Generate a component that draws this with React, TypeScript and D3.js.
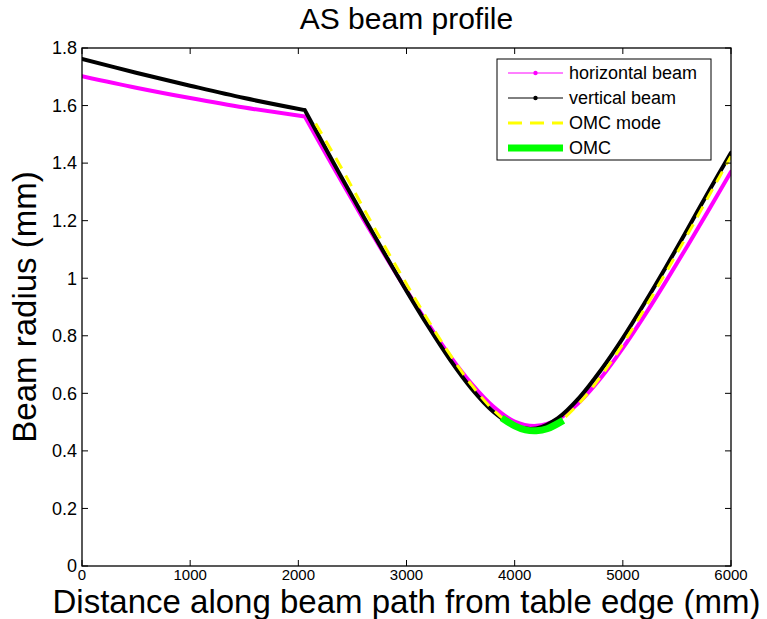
import React from "react";
import * as d3 from "d3";

const W = 767;
const H = 619;
const M = { left: 82, right: 731, top: 48, bottom: 566 };
const FONT = "'Liberation Sans', Arial, Helvetica, sans-serif";

const xTicks = [0, 1000, 2000, 3000, 4000, 5000, 6000];
const yTicks = [0, 0.2, 0.4, 0.6, 0.8, 1, 1.2, 1.4, 1.6, 1.8];

// beam positions (mm)
const beamX = [0, 500, 1000, 1500, 2060, 2200, 2400, 2600, 2800, 3000, 3200, 3400, 3600, 3800, 4000, 4200, 4400, 4600, 4800, 5000, 5200, 5400, 5600, 5800, 6000];
const kinkIndex = 4;
// horizontal beam radius (mm)
const horizontal = [1.702, 1.662, 1.626, 1.593, 1.562, 1.468, 1.336, 1.206, 1.080, 0.958, 0.841, 0.731, 0.634, 0.555, 0.502, 0.487, 0.510, 0.570, 0.655, 0.757, 0.870, 0.990, 1.114, 1.241, 1.370];
// vertical beam radius (mm)
const vertical = [1.762, 1.714, 1.669, 1.626, 1.584, 1.487, 1.350, 1.216, 1.084, 0.956, 0.833, 0.718, 0.617, 0.537, 0.487, 0.478, 0.514, 0.586, 0.682, 0.792, 0.913, 1.040, 1.172, 1.306, 1.436];

// OMC mode
const omcModeX = [2160, 2400, 2600, 2800, 3000, 3200, 3400, 3600, 3800, 4000, 4200, 4400, 4600, 4800, 5000, 5200, 5400, 5600, 5800, 6000];
const omcMode = [1.538, 1.382, 1.245, 1.110, 0.980, 0.854, 0.736, 0.630, 0.543, 0.485, 0.470, 0.499, 0.567, 0.661, 0.771, 0.893, 1.021, 1.153, 1.289, 1.424];

// OMC
const omcX = [3880, 4000, 4100, 4200, 4300, 4450];
const omc = [0.515, 0.487, 0.473, 0.470, 0.477, 0.506];

const legendLabels = ["horizontal beam", "vertical beam", "OMC mode", "OMC"];

type P = [number, number];

export default function App() {
  const x = d3.scaleLinear().domain([0, 6000]).range([M.left, M.right]);
  const y = d3.scaleLinear().domain([0, 1.8]).range([M.bottom, M.top]);
  const line = d3
    .line<P>()
    .x((d) => x(d[0]))
    .y((d) => y(d[1]))
    .curve(d3.curveCatmullRom.alpha(0.5));

  const zip = (xs: number[], ys: number[]): P[] => xs.map((v, i) => [v, ys[i]]);
  const twoPart = (ys: number[]) => {
    const pts = zip(beamX, ys);
    return (line(pts.slice(0, kinkIndex + 1)) || "") + (line(pts.slice(kinkIndex)) || "");
  };

  const tickLen = 6;
  const plotW = M.right - M.left;
  const plotH = M.bottom - M.top;

  // legend
  const lg = { x: 497, y: 59, w: 214, h: 101 };
  const rowY = [73, 98, 123, 148];
  const sx0 = 508, sx1 = 563, tx = 569;

  return (
    <svg
      width={W}
      height={H}
      style={{ position: "absolute", left: 0, top: 0, background: "#fff" }}
      fontFamily={FONT}
    >
      <rect x={0} y={0} width={W} height={H} fill="#fff" />
      <defs>
        <clipPath id="plot">
          <rect x={M.left} y={M.top} width={plotW} height={plotH} />
        </clipPath>
      </defs>

      {/* data */}
      <g clipPath="url(#plot)" fill="none" strokeLinejoin="round" strokeLinecap="round">
        <path d={twoPart(horizontal)} stroke="#ff00ff" strokeWidth={4} />
        <path d={twoPart(vertical)} stroke="#000" strokeWidth={4} />
        <path d={line(zip(omcModeX, omcMode)) || ""} stroke="#ffff00" strokeWidth={3} strokeDasharray="12,8" strokeLinecap="butt" />
        <path d={line(zip(omcX, omc)) || ""} stroke="#00ff00" strokeWidth={7} strokeLinecap="butt" />
      </g>

      {/* axes box */}
      <rect x={M.left} y={M.top} width={plotW} height={plotH} fill="none" stroke="#000" strokeWidth={1.3} />

      {/* x ticks */}
      {xTicks.map((t) => (
        <g key={"x" + t}>
          <line x1={x(t)} x2={x(t)} y1={M.bottom} y2={M.bottom - tickLen} stroke="#000" strokeWidth={1} />
          <line x1={x(t)} x2={x(t)} y1={M.top} y2={M.top + tickLen} stroke="#000" strokeWidth={1} />
          <text x={x(t)} y={M.bottom + 14} textAnchor="middle" fontSize={15} fill="#000">
            {t}
          </text>
        </g>
      ))}
      {/* y ticks */}
      {yTicks.map((t) => (
        <g key={"y" + t}>
          <line x1={M.left} x2={M.left + tickLen} y1={y(t)} y2={y(t)} stroke="#000" strokeWidth={1} />
          <line x1={M.right} x2={M.right - tickLen} y1={y(t)} y2={y(t)} stroke="#000" strokeWidth={1} />
          <text x={M.left - 5} y={y(t)} dy="0.35em" textAnchor="end" fontSize={18} fill="#000">
            {String(+t.toFixed(1))}
          </text>
        </g>
      ))}

      {/* title and labels */}
      <text x={(M.left + M.right) / 2} y={29} textAnchor="middle" fontSize={30} fill="#000">
        AS beam profile
      </text>
      <text x={(M.left + M.right) / 2} y={613} textAnchor="middle" fontSize={33} fill="#000">
        Distance along beam path from table edge (mm)
      </text>
      <text
        transform={`translate(36, ${(M.top + M.bottom) / 2}) rotate(-90)`}
        textAnchor="middle"
        fontSize={33}
        fill="#000"
      >
        Beam radius (mm)
      </text>

      {/* legend */}
      <rect x={lg.x} y={lg.y} width={lg.w} height={lg.h} fill="#fff" stroke="#000" strokeWidth={1} />
      <line x1={sx0} x2={sx1} y1={rowY[0]} y2={rowY[0]} stroke="#ff00ff" strokeWidth={1} />
      <circle cx={(sx0 + sx1) / 2} cy={rowY[0]} r={2.2} fill="#ff00ff" />
      <line x1={sx0} x2={sx1} y1={rowY[1]} y2={rowY[1]} stroke="#000" strokeWidth={1} />
      <circle cx={(sx0 + sx1) / 2} cy={rowY[1]} r={2.2} fill="#000" />
      <line x1={sx0} x2={sx1} y1={rowY[2]} y2={rowY[2]} stroke="#ffff00" strokeWidth={3} strokeDasharray="14,8" />
      <line x1={sx0} x2={sx1} y1={rowY[3]} y2={rowY[3]} stroke="#00ff00" strokeWidth={7} />
      {legendLabels.map((l, i) => (
        <text key={l} x={tx} y={rowY[i]} dy="0.35em" fontSize={18} fill="#000">
          {l}
        </text>
      ))}
    </svg>
  );
}
